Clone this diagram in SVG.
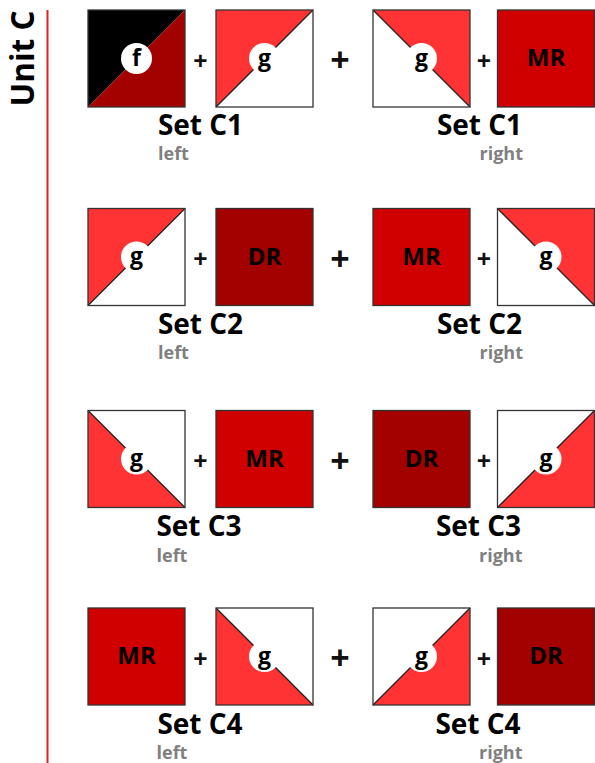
<svg xmlns="http://www.w3.org/2000/svg" width="595" height="763" viewBox="0 0 595 763">
<style>
text{font-family:"Open Sans","Liberation Sans",sans-serif;font-weight:bold;}
.bg{fill:#fff;}
.edge{fill:none;stroke:#333;stroke-width:1.3;}
.diag{stroke:#222;stroke-width:1.3;}
.blk{fill:#000;}
.dr{fill:#a30000;}
.mr{fill:#d00000;}
.br{fill:#ff3333;}
.dot{fill:#fff;}
.lab{font-size:23px;fill:#000;text-anchor:middle;}
.big{font-size:24px;fill:#000;text-anchor:middle;}
.title{font-size:28px;fill:#000;text-anchor:middle;}
.sub{font-size:18px;fill:#808080;}
.plus{font-size:25px;fill:#111;text-anchor:middle;}
.plusbig{font-size:34px;fill:#111;text-anchor:middle;}
</style>
<defs>
<rect id="frame" class="edge" x="0" y="0" width="97" height="97"/>
<circle id="dotc" class="dot" cx="48.5" cy="48.5" r="15.5"/>
</defs>

<g id="unit-label">
<text transform="translate(34,58.5) rotate(-90)" style="font-size:33px;fill:#000;text-anchor:middle" textLength="96" lengthAdjust="spacingAndGlyphs">Unit C</text>
<line x1="47.5" y1="10" x2="47.5" y2="763" stroke="#e02020" stroke-width="2"/>
</g>

<g id="connectors">
<text class="plus" x="200.5" y="69.5">+</text>
<text class="plusbig" x="340" y="72">+</text>
<text class="plus" x="484" y="69.5">+</text>
<text class="plus" x="200.5" y="268">+</text>
<text class="plusbig" x="340" y="270.5">+</text>
<text class="plus" x="484" y="268">+</text>
<text class="plus" x="200.5" y="470">+</text>
<text class="plusbig" x="340" y="472.5">+</text>
<text class="plus" x="484" y="470">+</text>
<text class="plus" x="200.5" y="667.5">+</text>
<text class="plusbig" x="340" y="670">+</text>
<text class="plus" x="484" y="667.5">+</text>
</g>

<!-- Row 1 -->
<g id="c1-left-a" transform="translate(88,10)">
<polygon class="blk" points="0,0 97,0 0,97"/>
<polygon class="dr" points="97,0 97,97 0,97"/>
<use href="#frame"/>
<use href="#dotc"/>
<text class="lab" x="48.5" y="56">f</text>
</g>
<g id="c1-left-b" transform="translate(216,10)">
<rect class="bg" width="97" height="97"/>
<polygon class="br" points="0,0 97,0 0,97"/>
<line class="diag" x1="0" y1="97" x2="97" y2="0"/>
<use href="#frame"/>
<use href="#dotc"/>
<text class="lab" x="48.5" y="55.5">g</text>
</g>
<g id="c1-right-a" transform="translate(373,10)">
<rect class="bg" width="97" height="97"/>
<polygon class="br" points="0,0 97,0 97,97"/>
<line class="diag" x1="0" y1="0" x2="97" y2="97"/>
<use href="#frame"/>
<use href="#dotc"/>
<text class="lab" x="48.5" y="55.5">g</text>
</g>
<g id="c1-right-b" transform="translate(497.5,10)">
<rect class="mr" width="97" height="97"/>
<use href="#frame"/>
<text class="big" x="48.5" y="56">MR</text>
</g>
<g id="c1-titles">
<text class="title" x="200.5" y="135">Set C1</text>
<text class="sub" x="158" y="160">left</text>
<text class="title" x="479.5" y="135">Set C1</text>
<text class="sub" x="523" y="160" text-anchor="end">right</text>
</g>

<!-- Row 2 -->
<g id="c2-left-a" transform="translate(88,208.5)">
<rect class="bg" width="97" height="97"/>
<polygon class="br" points="0,0 97,0 0,97"/>
<line class="diag" x1="0" y1="97" x2="97" y2="0"/>
<use href="#frame"/>
<use href="#dotc"/>
<text class="lab" x="48.5" y="55.5">g</text>
</g>
<g id="c2-left-b" transform="translate(216,208.5)">
<rect class="dr" width="97" height="97"/>
<use href="#frame"/>
<text class="big" x="48.5" y="56">DR</text>
</g>
<g id="c2-right-a" transform="translate(373,208.5)">
<rect class="mr" width="97" height="97"/>
<use href="#frame"/>
<text class="big" x="48.5" y="56">MR</text>
</g>
<g id="c2-right-b" transform="translate(497.5,208.5)">
<rect class="bg" width="97" height="97"/>
<polygon class="br" points="0,0 97,0 97,97"/>
<line class="diag" x1="0" y1="0" x2="97" y2="97"/>
<use href="#frame"/>
<use href="#dotc"/>
<text class="lab" x="48.5" y="55.5">g</text>
</g>
<g id="c2-titles">
<text class="title" x="200.5" y="333.5">Set C2</text>
<text class="sub" x="158" y="359">left</text>
<text class="title" x="479.5" y="333.5">Set C2</text>
<text class="sub" x="523" y="359" text-anchor="end">right</text>
</g>

<!-- Row 3 -->
<g id="c3-left-a" transform="translate(88,410.5)">
<rect class="bg" width="97" height="97"/>
<polygon class="br" points="0,0 97,97 0,97"/>
<line class="diag" x1="0" y1="0" x2="97" y2="97"/>
<use href="#frame"/>
<use href="#dotc"/>
<text class="lab" x="48.5" y="55.5">g</text>
</g>
<g id="c3-left-b" transform="translate(216,410.5)">
<rect class="mr" width="97" height="97"/>
<use href="#frame"/>
<text class="big" x="48.5" y="56">MR</text>
</g>
<g id="c3-right-a" transform="translate(373,410.5)">
<rect class="dr" width="97" height="97"/>
<use href="#frame"/>
<text class="big" x="48.5" y="56">DR</text>
</g>
<g id="c3-right-b" transform="translate(497.5,410.5)">
<rect class="bg" width="97" height="97"/>
<polygon class="br" points="97,0 97,97 0,97"/>
<line class="diag" x1="0" y1="97" x2="97" y2="0"/>
<use href="#frame"/>
<use href="#dotc"/>
<text class="lab" x="48.5" y="55.5">g</text>
</g>
<g id="c3-titles">
<text class="title" x="199" y="535.5">Set C3</text>
<text class="sub" x="156.5" y="561.5">left</text>
<text class="title" x="478.5" y="535.5">Set C3</text>
<text class="sub" x="522.5" y="561.5" text-anchor="end">right</text>
</g>

<!-- Row 4 -->
<g id="c4-left-a" transform="translate(88,608)">
<rect class="mr" width="97" height="97"/>
<use href="#frame"/>
<text class="big" x="48.5" y="56">MR</text>
</g>
<g id="c4-left-b" transform="translate(216,608)">
<rect class="bg" width="97" height="97"/>
<polygon class="br" points="0,0 97,97 0,97"/>
<line class="diag" x1="0" y1="0" x2="97" y2="97"/>
<use href="#frame"/>
<use href="#dotc"/>
<text class="lab" x="48.5" y="55.5">g</text>
</g>
<g id="c4-right-a" transform="translate(373,608)">
<rect class="bg" width="97" height="97"/>
<polygon class="br" points="97,0 97,97 0,97"/>
<line class="diag" x1="0" y1="97" x2="97" y2="0"/>
<use href="#frame"/>
<use href="#dotc"/>
<text class="lab" x="48.5" y="55.5">g</text>
</g>
<g id="c4-right-b" transform="translate(497.5,608)">
<rect class="dr" width="97" height="97"/>
<use href="#frame"/>
<text class="big" x="48.5" y="56">DR</text>
</g>
<g id="c4-titles">
<text class="title" x="200" y="734">Set C4</text>
<text class="sub" x="156.5" y="759">left</text>
<text class="title" x="478" y="734">Set C4</text>
<text class="sub" x="522.5" y="759" text-anchor="end">right</text>
</g>
</svg>
